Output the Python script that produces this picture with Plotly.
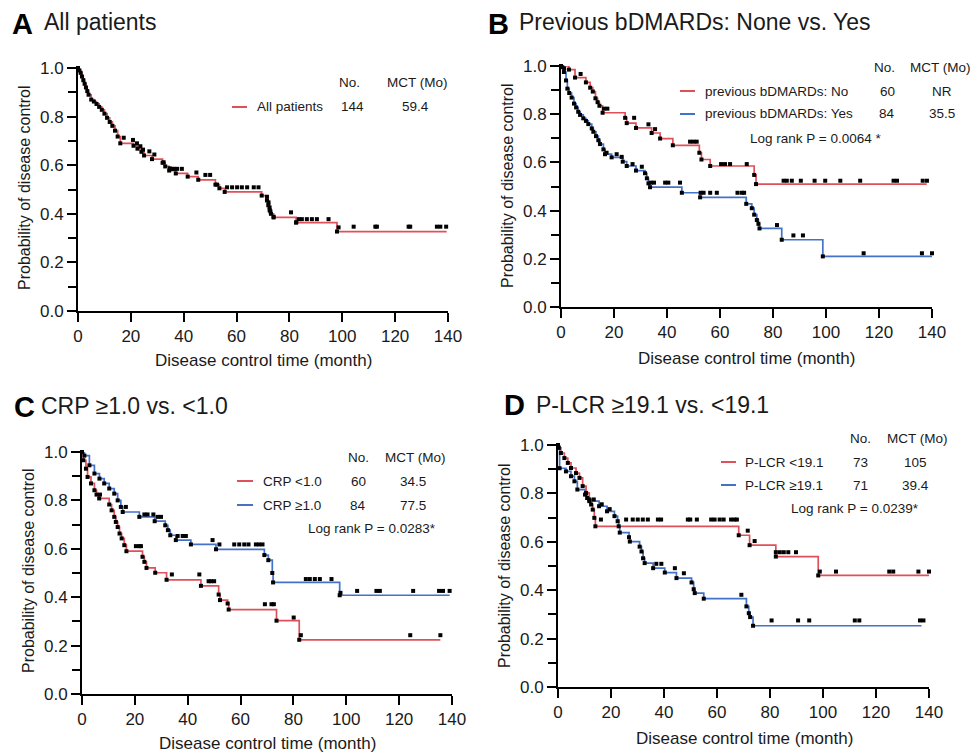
import plotly.graph_objects as go

# ---------------- DATA ----------------
# Panel A: All patients
A_t = [0, 0.5, 1, 1.5, 2, 2.5, 3, 3.5, 4, 5, 6, 7, 8, 9, 10, 11, 12, 13, 14, 15, 16, 21, 22.5, 24, 25, 28, 32, 33,
       34.5, 37, 41.5, 45.5, 52, 53.5, 55.5, 69.5, 71.5, 72, 72.5, 73, 74, 82.5, 98, 139.5]
A_s = [1.0, 0.99, 0.98, 0.965, 0.95, 0.935, 0.92, 0.905, 0.89, 0.87, 0.862, 0.852, 0.84, 0.828, 0.812, 0.795, 0.778,
       0.762, 0.742, 0.718, 0.69, 0.68, 0.668, 0.655, 0.64, 0.625, 0.61, 0.595, 0.578, 0.566, 0.553, 0.54, 0.52, 0.505,
       0.49, 0.475, 0.455, 0.435, 0.415, 0.40, 0.385, 0.364, 0.327, 0.327]
A_ct = [17.3, 20.8, 22.3, 23.6, 24.6, 27, 28.9, 32.4, 34.7, 35.6, 36.5, 37.5, 39.3, 44.8, 48.2, 50, 52.6, 56.4, 58.3,
        60.2, 62, 64, 66.5, 68.3, 71.5, 72.1, 72.5, 72.8, 74, 80.6, 82.6, 83.5, 84.7, 86.6, 88.5, 90.4, 94.8, 98.6,
        104.3, 112.5, 113.1, 125.1, 125.7, 135.8, 137.1, 139.3]
A_cs = [0.713, 0.704, 0.69, 0.678, 0.664, 0.657, 0.644, 0.612, 0.587, 0.585, 0.585, 0.585, 0.585, 0.57, 0.56, 0.56,
        0.52, 0.509, 0.509, 0.509, 0.509, 0.509, 0.509, 0.509, 0.47, 0.447, 0.426, 0.41, 0.388, 0.406, 0.365, 0.378,
        0.378, 0.378, 0.378, 0.378, 0.378, 0.344, 0.347, 0.347, 0.347, 0.347, 0.347, 0.347, 0.347, 0.347]

# Panel B: previous bDMARDs No (red) / Yes (blue)
B1_t = [0, 3, 5.3, 9.4, 11, 12, 13, 13.8, 14.5, 15.7, 24.2, 24.8, 28.3, 34.2, 37.4, 42.2, 52.2, 53, 56.3, 72.9, 73.6,
        138]
B1_s = [1.0, 0.985, 0.952, 0.932, 0.91, 0.894, 0.866, 0.85, 0.835, 0.806, 0.785, 0.763, 0.743, 0.722, 0.699, 0.671,
        0.64, 0.612, 0.585, 0.548, 0.51, 0.51]
B1_ct = [0.5, 1.2, 7.4, 16.2, 17.5, 27.6, 33, 35.5, 48.7, 50, 51.2, 60.4, 61.9, 63.8, 70.1, 84, 85.2, 87.1, 90.5, 95.7,
         99.7, 105.4, 112.9, 125.5, 126.8, 136.5, 138.1]
B1_cs = [0.995, 0.99, 0.967, 0.823, 0.823, 0.785, 0.758, 0.738, 0.686, 0.686, 0.686, 0.593, 0.593, 0.593, 0.593,
         0.524, 0.524, 0.524, 0.524, 0.524, 0.524, 0.524, 0.524, 0.524, 0.524, 0.524, 0.524]
B2_t = [0, 1.1, 1.9, 2.4, 3.1, 4, 4.9, 5.7, 6.5, 7.2, 8.4, 9.4, 10.3, 11.6, 12.2, 13.2, 14.1, 14.7, 16, 16.6, 19.1,
        23.3, 24.8, 28.3, 31.7, 32.4, 33, 33.6, 45.6, 52.5, 69.9, 72, 72.9, 73.9, 74.5, 74.9, 83.3, 98.8, 140]
B2_s = [1.0, 0.975, 0.94, 0.906, 0.888, 0.869, 0.844, 0.828, 0.81, 0.797, 0.783, 0.772, 0.759, 0.741, 0.727, 0.709,
        0.692, 0.676, 0.654, 0.634, 0.621, 0.603, 0.585, 0.566, 0.555, 0.534, 0.513, 0.497, 0.474, 0.455, 0.428, 0.41,
        0.383, 0.361, 0.345, 0.326, 0.279, 0.21, 0.21]
B2_ct = [17.2, 21, 22.9, 27, 30.5, 33.9, 35.1, 39.3, 40.5, 44.9, 52.7, 53.8, 56.3, 58.8, 66.6, 68.2, 69.1, 81.5, 87.7,
         91.3, 114.2, 136.2, 140]
B2_cs = [0.64, 0.634, 0.623, 0.593, 0.582, 0.516, 0.516, 0.516, 0.516, 0.516, 0.474, 0.474, 0.474, 0.474, 0.474,
         0.474, 0.474, 0.34, 0.297, 0.297, 0.223, 0.223, 0.223]

# Panel C: CRP <1.0 (red) / CRP >=1.0 (blue)
C1_t = [0, 0.5, 1.5, 2.1, 3.4, 4.7, 5.5, 6.5, 10.3, 11.2, 12.2, 12.8, 13.5, 14.2, 15, 16, 16.8, 22.9, 23.6, 24.4,
        27.7, 32, 45, 51.7, 52.2, 55.1, 55.5, 73.6, 82.2, 135.6]
C1_s = [1.0, 0.966, 0.931, 0.897, 0.87, 0.842, 0.824, 0.808, 0.783, 0.759, 0.732, 0.711, 0.69, 0.663, 0.643, 0.615,
        0.59, 0.567, 0.546, 0.521, 0.501, 0.472, 0.447, 0.411, 0.388, 0.374, 0.349, 0.303, 0.224, 0.224]
C1_ct = [6.8, 20.4, 21.7, 22.3, 34, 44.4, 47.9, 48.8, 50, 69.2, 71.7, 72.6, 80.1, 82.8, 124.2, 135.6]
C1_cs = [0.824, 0.611, 0.611, 0.611, 0.494, 0.494, 0.466, 0.466, 0.466, 0.371, 0.371, 0.371, 0.316, 0.243, 0.243,
         0.243]
C2_t = [0, 0.9, 2.8, 4.7, 6.6, 8.4, 10.3, 12.2, 13.5, 14.7, 15.4, 21.7, 27.5, 31.5, 32.5, 33.4, 35.5, 41.2, 50.7, 69,
        70.5, 72, 72.3, 97.5, 139.1]
C2_s = [1.0, 0.985, 0.945, 0.911, 0.89, 0.87, 0.849, 0.828, 0.80, 0.773, 0.752, 0.732, 0.714, 0.697, 0.677, 0.656,
        0.636, 0.618, 0.598, 0.574, 0.553, 0.50, 0.461, 0.408, 0.408]
C2_ct = [16.6, 23.6, 24.8, 27, 28.6, 29.9, 36.2, 38.1, 39.3, 49.4, 52, 57.6, 59.5, 61.4, 63, 65.8, 67, 68.3, 84.7,
         86.2, 88.1, 90, 94.4, 97.8, 104.1, 111.4, 112.7, 125.3, 135.1, 136.6, 139.1]
C2_cs = [0.773, 0.742, 0.742, 0.742, 0.732, 0.732, 0.653, 0.653, 0.653, 0.636, 0.618, 0.618, 0.618, 0.618, 0.618,
         0.618, 0.618, 0.618, 0.475, 0.475, 0.475, 0.475, 0.475, 0.418, 0.426, 0.426, 0.426, 0.426, 0.426, 0.426,
         0.426]

# Panel D: P-LCR <19.1 (red) / P-LCR >=19.1 (blue)
D1_t = [0, 0.3, 1.1, 2.4, 3.7, 4.9, 6.8, 8.1, 9.3, 10.6, 11.8, 12.5, 13.1, 13.7, 14.1, 68.2, 72.3, 82.2, 98.2, 140]
D1_s = [1.0, 0.988, 0.967, 0.946, 0.926, 0.905, 0.884, 0.864, 0.83, 0.802, 0.775, 0.754, 0.733, 0.699, 0.664, 0.627,
        0.586, 0.539, 0.461, 0.461]
D1_ct = [16.2, 25.7, 28.2, 30.1, 32, 33.9, 37.7, 38.9, 49, 49.9, 52.4, 57.8, 59.1, 61, 62.5, 65.3, 66.6, 67.5, 71.6,
         74.2, 82.2, 83.7, 85.2, 86.9, 89.8, 98.8, 104.9, 125, 126.5, 136, 140]
D1_cs = [0.692, 0.692, 0.692, 0.692, 0.692, 0.692, 0.692, 0.692, 0.692, 0.692, 0.692, 0.692, 0.692, 0.692, 0.692,
         0.692, 0.692, 0.692, 0.646, 0.603, 0.557, 0.557, 0.557, 0.557, 0.557, 0.477, 0.477, 0.477, 0.477, 0.477,
         0.477]
D2_t = [0, 0.6, 3, 4.9, 6.2, 7.3, 10.2, 11, 11.8, 15.5, 18.5, 21.3, 22.5, 22.9, 23.3, 26.8, 27.1, 30.8, 31.5, 32.1,
        32.7, 35.9, 40.3, 44.7, 50.4, 51.2, 51.6, 55, 71.1, 72, 72.5, 73.6, 137.2]
D2_s = [1.0, 0.904, 0.891, 0.871, 0.85, 0.816, 0.795, 0.781, 0.768, 0.747, 0.726, 0.706, 0.685, 0.664, 0.638, 0.619,
        0.601, 0.58, 0.56, 0.532, 0.512, 0.491, 0.473, 0.45, 0.432, 0.404, 0.388, 0.365, 0.333, 0.305, 0.289, 0.253,
        0.253]
D2_ct = [13.5, 16.5, 19.5, 37.1, 39, 44.1, 47.5, 69.2, 80.6, 90.6, 94.8, 112, 113.7, 136.6, 137.9]
D2_cs = [0.775, 0.755, 0.735, 0.509, 0.509, 0.491, 0.47, 0.381, 0.275, 0.275, 0.275, 0.275, 0.275, 0.275, 0.275]

x_ticks = [0, 20, 40, 60, 80, 100, 120, 140]
y_ticks = [0.0, 0.2, 0.4, 0.6, 0.8, 1.0]

panel_letters = ["A", "B", "C", "D"]
panel_titles = ["All patients", "Previous bDMARDs: None vs. Yes", "CRP ≥1.0 vs. <1.0", "P-LCR ≥19.1 vs. <19.1"]
legend_A = [["All patients", "144", "59.4"]]
legend_B = [["previous bDMARDs: No", "60", "NR"], ["previous bDMARDs: Yes", "84", "35.5"]]
legend_C = [["CRP <1.0", "60", "34.5"], ["CRP ≥1.0", "84", "77.5"]]
legend_D = [["P-LCR <19.1", "73", "105"], ["P-LCR ≥19.1", "71", "39.4"]]
logrank = ["", "Log rank P = 0.0064 *", "Log rank P = 0.0283*", "Log rank P = 0.0239*"]

# ---------------- STYLE / LAYOUT ----------------
W, H = 973, 754
RED = "#e0505a"
BLUE = "#4472c8"
FONT = "Liberation Sans, Arial, sans-serif"
TXT = "#1a1a1a"


def fx(p):
    return p / W


def fy(p):
    return 1 - p / H


# pixel boxes for plot areas: (left, right, top, bottom)
boxes = [(78, 448, 68, 311), (561, 932, 66, 307), (82, 452, 452, 694), (558, 929, 445, 687)]

fig = go.Figure()

series = [
    [(A_t, A_s, A_ct, A_cs, RED)],
    [(B1_t, B1_s, B1_ct, B1_cs, RED), (B2_t, B2_s, B2_ct, B2_cs, BLUE)],
    [(C1_t, C1_s, C1_ct, C1_cs, RED), (C2_t, C2_s, C2_ct, C2_cs, BLUE)],
    [(D1_t, D1_s, D1_ct, D1_cs, RED), (D2_t, D2_s, D2_ct, D2_cs, BLUE)],
]

layout_axes = {}
for i, box in enumerate(boxes):
    n = "" if i == 0 else str(i + 1)
    xa, ya = "x" + n, "y" + n
    l, r, t, b = box
    axis_common = dict(showline=True, linecolor="black", linewidth=2, ticks="outside", ticklen=9, tickwidth=2,
                       tickcolor="black", showgrid=False, zeroline=False, automargin=False,
                       tickfont=dict(family=FONT, size=17, color=TXT))
    layout_axes["xaxis" + n] = dict(domain=[fx(l), fx(r)], range=[0, 140], tickvals=x_ticks, anchor=ya,
                                    **axis_common)
    layout_axes["yaxis" + n] = dict(domain=[fy(b), fy(t)], range=[0, 1.0], tickvals=y_ticks, tickformat=".1f",
                                    anchor=xa, minor=dict(dtick=0.1, ticks="outside", ticklen=8, tickwidth=2,
                                                          tickcolor="black"),
                                    **axis_common)
    for (tt, ss, ct, cs, col) in series[i]:
        fig.add_trace(go.Scatter(x=tt, y=ss, mode="lines", line=dict(color=col, width=1.7, shape="hv"),
                                 xaxis=xa, yaxis=ya, showlegend=False, hoverinfo="skip"))
    for (tt, ss, ct, cs, col) in series[i]:
        fig.add_trace(go.Scatter(x=list(tt[:-1]) + list(ct), y=list(ss[:-1]) + list(cs), mode="markers",
                                 marker=dict(symbol="square", size=4, color="black"), cliponaxis=False,
                                 xaxis=xa, yaxis=ya, showlegend=False, hoverinfo="skip"))

fig.update_layout(width=W, height=H, margin=dict(l=0, r=0, t=0, b=0, pad=0, autoexpand=False),
                  paper_bgcolor="white", plot_bgcolor="white", showlegend=False, **layout_axes)

ann = []
shapes = []


def text(x, y, s, size, xanchor="left", bold=False, angle=0):
    ann.append(dict(x=fx(x), y=fy(y), xref="paper", yref="paper", text=("<b>%s</b>" % s) if bold else s,
                    showarrow=False, xanchor=xanchor, yanchor="middle", textangle=angle,
                    font=dict(family=FONT, size=size, color=TXT if not bold else "black")))


# panel headings
letter_pos = [(10, 24), (486, 24), (12, 407), (502, 405)]
title_pos = [(42, 22), (517, 22), (39, 406), (534, 405)]
for i in range(4):
    text(letter_pos[i][0], letter_pos[i][1], panel_letters[i], 29, bold=True)
    text(title_pos[i][0], title_pos[i][1], panel_titles[i], 23)

# axis titles
xt_pos = [(263, 360), (746, 358), (267, 743), (744, 738)]
yt_pos = [(25, 188), (507, 185), (28, 571), (504, 566)]
for i in range(4):
    text(xt_pos[i][0], xt_pos[i][1], "Disease control time (month)", 17, xanchor="center")
    text(yt_pos[i][0], yt_pos[i][1], "Probability of disease control", 16, xanchor="center", angle=-90)

# legend blocks
legends = [legend_A, legend_B, legend_C, legend_D]
leg_cfg = [
    dict(hy=83, nox=349, mctx=417, lx0=232, lx1=247, tx=255, rows=[107], nvx=352, mvx=415),
    dict(hy=67, nox=884, mctx=940, lx0=680, lx1=695, tx=703, rows=[91, 114], nvx=887, mvx=942),
    dict(hy=457, nox=358, mctx=415, lx0=237, lx1=253, tx=261, rows=[481, 505], nvx=358, mvx=413),
    dict(hy=438, nox=860, mctx=917, lx0=721, lx1=736, tx=743, rows=[462, 485], nvx=860, mvx=915),
]
lr_pos = [None, (748, 138), (306, 528), (789, 509)]
row_colors = [RED, BLUE]
for i in range(4):
    c = leg_cfg[i]
    text(c["nox"], c["hy"], "No.", 13.5, xanchor="center")
    text(c["mctx"], c["hy"], "MCT (Mo)", 13.5, xanchor="center")
    for j, row in enumerate(legends[i]):
        y = c["rows"][j]
        shapes.append(dict(type="line", xref="paper", yref="paper", x0=fx(c["lx0"]), x1=fx(c["lx1"]),
                           y0=fy(y), y1=fy(y), line=dict(color=row_colors[j], width=2)))
        text(c["tx"], y, row[0], 13.5)
        text(c["nvx"], y, row[1], 13.5, xanchor="center")
        text(c["mvx"], y, row[2], 13.5, xanchor="center")
    if lr_pos[i]:
        text(lr_pos[i][0], lr_pos[i][1], logrank[i], 13.5)

fig.update_layout(annotations=ann, shapes=shapes)
fig.write_html("out.html", config={"displayModeBar": False},
               post_script="document.body.style.margin='0px';document.body.style.overflow='hidden';")
